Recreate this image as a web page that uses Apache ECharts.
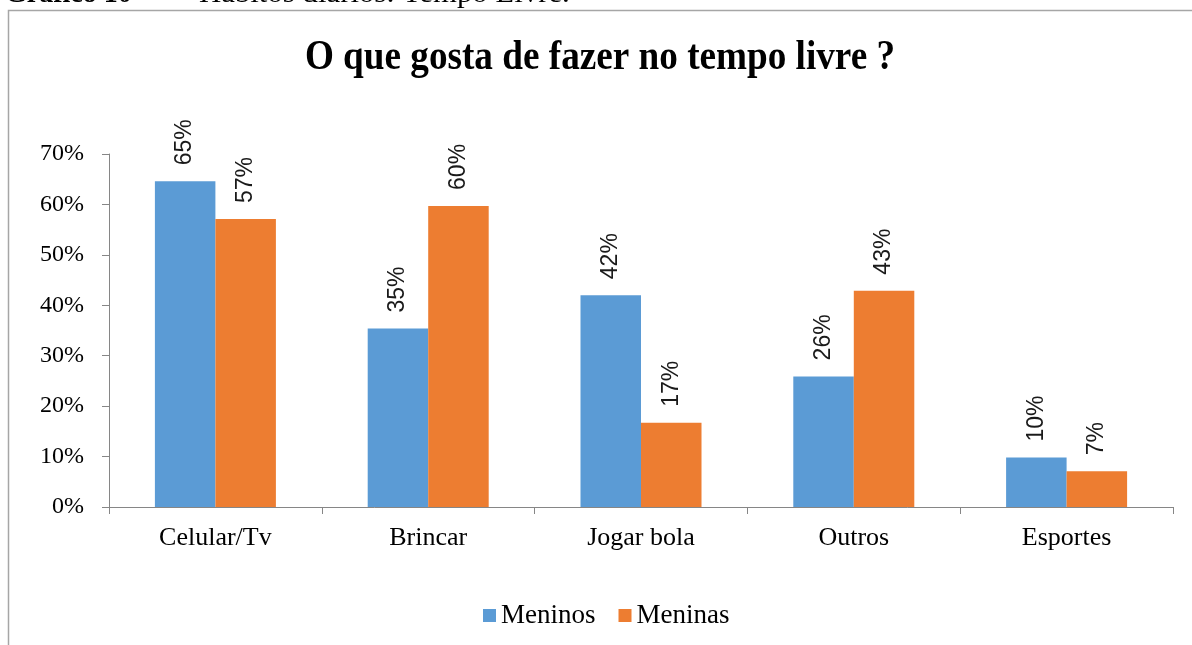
<!DOCTYPE html>
<html>
<head>
<meta charset="utf-8">
<script src="https://cdn.jsdelivr.net/npm/echarts@6/dist/echarts.min.js"></script>
<style>
html,body{margin:0;padding:0;background:#fff;}
#chart{width:1192px;height:645px;}
</style>
</head>
<body>
<div id="chart"></div>
<script>
var captionBold = 'Gráfico 10 –';
var captionRest = 'Hábitos diários: Tempo Livre.';
var title = 'O que gosta de fazer no tempo livre ?';
var categories = ['Celular/Tv', 'Brincar', 'Jogar bola', 'Outros', 'Esportes'];
var seriesNames = ['Meninos', 'Meninas'];
var meninos = [64.6, 35.4, 42.0, 25.9, 9.8];
var meninas = [57.1, 59.7, 16.7, 42.9, 7.1];
var yTicks = [0, 10, 20, 30, 40, 50, 60, 70];

var serif = '"Liberation Serif", "Times New Roman", serif';
var sans = '"Liberation Sans", Arial, sans-serif';

var chart = echarts.init(document.getElementById('chart'));

function labelCfg() {
  return {
    show: true,
    position: 'top',
    rotate: 90,
    align: 'left',
    verticalAlign: 'middle',
    distance: 16,
    fontFamily: sans,
    fontSize: 23,
    color: '#1a1a1a',
    formatter: function (p) { return Math.round(p.value) + '%'; }
  };
}

chart.setOption({
  animation: false,
  backgroundColor: '#fff',
  graphic: [
    {
      type: 'rect',
      shape: { x: 8.5, y: 10.5, width: 1250, height: 700 },
      style: { fill: 'none', stroke: '#a6a6a6', lineWidth: 1.5 },
      silent: true
    },
    {
      type: 'text',
      x: 5, y: 9,
      style: { text: captionBold, font: 'bold 28px ' + serif, fill: '#000', verticalAlign: 'bottom', align: 'left' }
    },
    {
      type: 'text',
      x: 199, y: 9,
      scaleX: 1.1,
      style: { text: captionRest, font: '28px ' + serif, fill: '#000', verticalAlign: 'bottom', align: 'left' }
    },
    {
      type: 'text',
      x: 600, y: 58,
      scaleX: 0.865,
      style: { text: title, font: 'bold 43px ' + serif, fill: '#000', verticalAlign: 'middle', align: 'center' }
    }
  ],
  legend: {
    top: 597,
    left: 478,
    itemWidth: 13,
    itemHeight: 13,
    itemGap: 23,
    icon: 'rect',
    textStyle: { fontFamily: serif, fontSize: 27, color: '#000', padding: [0, 0, 0, 0] },
    data: seriesNames
  },
  grid: { left: 109, right: 19, top: 154, bottom: 138, containLabel: false },
  xAxis: {
    type: 'category',
    data: categories,
    axisLine: { lineStyle: { color: '#868686', width: 1 } },
    axisTick: { show: true, length: 7, lineStyle: { color: '#868686' } },
    axisLabel: { fontFamily: serif, fontSize: 26, color: '#000', margin: 18 }
  },
  yAxis: {
    type: 'value',
    min: 0,
    max: 70,
    interval: 10,
    splitLine: { show: false },
    axisLine: { show: true, lineStyle: { color: '#868686', width: 1 } },
    axisTick: { show: true, length: 7, lineStyle: { color: '#868686' } },
    axisLabel: {
      fontFamily: serif, fontSize: 24, color: '#000', margin: 25,
      formatter: function (v) { return yTicks.indexOf(v) >= 0 ? v + '%' : ''; }
    }
  },
  series: [
    {
      name: seriesNames[0],
      type: 'bar',
      data: meninos,
      barWidth: 60.5,
      barGap: '0%',
      itemStyle: { color: '#5b9bd5' },
      label: labelCfg()
    },
    {
      name: seriesNames[1],
      type: 'bar',
      data: meninas,
      barWidth: 60.5,
      itemStyle: { color: '#ed7d31' },
      label: labelCfg()
    }
  ]
});
</script>
</body>
</html>
